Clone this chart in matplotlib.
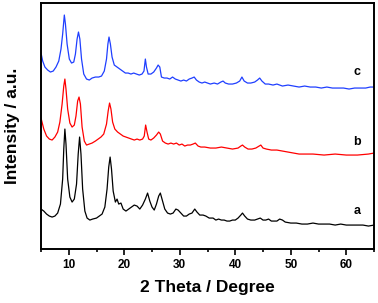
import matplotlib
matplotlib.use("Agg")
import matplotlib.pyplot as plt
from matplotlib.ticker import MultipleLocator

# Curve a (black)
x_a = [5.0, 5.5, 6.0, 6.5, 7.0, 7.5, 8.0, 8.5, 8.9, 9.1, 9.3, 9.5, 9.8, 10.2, 10.6, 11.0, 11.4, 11.7,
       11.95, 12.2, 12.5, 12.9, 13.3, 13.8, 14.3, 15.0, 15.5, 16.0, 16.5, 16.9, 17.2, 17.45, 17.7, 18.0,
       18.4, 18.7, 19.0, 19.4, 19.8, 20.3, 20.8, 21.3, 21.8, 22.3, 22.8, 23.3, 23.8, 24.2, 24.6, 25.0,
       25.4, 25.8, 26.2, 26.5, 26.9, 27.3, 27.8, 28.3, 28.8, 29.3, 29.7, 30.2, 30.7, 31.2, 31.7, 32.2,
       32.7, 33.1, 33.6, 34.2, 34.7, 35.3, 36.0, 36.5, 37.0, 37.5, 38.0, 38.5, 39.0, 39.5, 40.0, 40.5,
       41.0, 41.3, 41.7, 42.2, 42.8, 43.5, 44.0, 44.5, 45.0, 45.5, 46.0, 46.5, 47.0, 47.5, 48.0, 48.5,
       49.0, 50.0, 51.0, 52.0, 53.0, 54.0, 55.0, 56.0, 57.0, 58.0, 59.0, 60.0, 61.0, 62.0, 63.0, 64.0, 65.0]
y_a = [40, 38, 35, 33, 32, 33, 36, 45, 70, 100, 120, 105, 70, 52, 47, 50, 65, 95,
       112, 95, 60, 38, 31, 29, 30, 31, 33, 35, 42, 60, 82, 92, 80, 58,
       47, 50, 45, 46, 40, 38, 40, 42, 44, 43, 40, 44, 50, 56, 48, 42,
       39, 45, 53, 56, 48, 40, 36, 35, 36, 40, 39, 36, 33, 33, 35, 36,
       40, 37, 34, 34, 33, 31, 31, 29, 30, 29, 29, 28, 28, 29, 29, 31,
       34, 36, 33, 30, 29, 29, 30, 31, 29, 29, 30, 28, 28, 28, 30, 29,
       27, 26, 26, 25, 25, 26, 25, 25, 25, 24, 25, 24, 24, 24, 24, 23, 24]

# Curve b (red)
x_b = [5.0, 5.5, 6.0, 6.5, 7.0, 7.5, 8.0, 8.4, 8.8, 9.1, 9.3, 9.5, 9.8, 10.2, 10.6, 11.0, 11.3, 11.6,
       11.85, 12.1, 12.4, 12.8, 13.2, 13.7, 14.2, 14.8, 15.3, 15.8, 16.3, 16.8, 17.1, 17.35, 17.6, 17.9,
       18.3, 18.8, 19.3, 19.8, 20.3, 20.8, 21.3, 21.8, 22.3, 22.8, 23.3, 23.6, 23.85, 24.1, 24.4, 24.8,
       25.3, 25.8, 26.2, 26.5, 26.9, 27.4, 27.9, 28.4, 28.9, 29.4, 29.9, 30.4, 30.9, 31.4, 31.9, 32.4,
       32.8, 33.3, 33.8, 34.5, 35.5, 36.5, 37.5, 38.5, 39.5, 40.5, 41.0, 41.3, 41.7, 42.3, 43.0, 43.7,
       44.3, 44.6, 45.0, 45.6, 46.5, 47.5, 48.5, 49.5, 50.5, 51.5, 52.5, 54.0, 56.0, 58.0, 60.0, 62.0,
       64.0, 65.0]
y_b = [131, 120, 113, 110, 109, 112, 117, 127, 145, 163, 170, 160, 140, 126, 122, 124, 133, 148,
       152, 145, 122, 108, 104, 105, 106, 108, 110, 112, 115, 125, 138, 146, 140, 127,
       120, 117, 115, 113, 112, 111, 110, 109, 110, 109, 110, 113, 124, 117, 110, 109,
       111, 114, 117, 115, 108, 106, 105, 106, 105, 106, 104, 105, 103, 104, 104, 105,
       106, 103, 102, 102, 101, 101, 102, 101, 100, 101, 103, 104, 102, 100, 100, 101,
       103, 104, 101, 100, 99, 99, 98, 97, 96, 95, 95, 95, 94, 95, 94, 94,
       95, 96]

# Curve c (blue)
x_c = [5.0, 5.3, 5.7, 6.2, 6.7, 7.2, 7.7, 8.2, 8.6, 8.9, 9.2, 9.4, 9.7, 10.1, 10.5, 10.9, 11.2, 11.5,
       11.75, 12.0, 12.3, 12.7, 13.2, 13.7, 14.2, 14.8, 15.4, 15.9, 16.4, 16.8, 17.05, 17.25, 17.5, 17.8,
       18.2, 18.7, 19.2, 19.7, 20.2, 20.7, 21.2, 21.7, 22.2, 22.7, 23.2, 23.55, 23.8, 24.0, 24.3, 24.8,
       25.3, 25.8, 26.1, 26.4, 26.7, 27.2, 27.7, 28.2, 28.7, 29.2, 29.7, 30.2, 30.7, 31.2, 31.7, 32.2,
       32.6, 33.0, 33.5, 34.0, 34.5, 35.0, 35.5, 36.2, 36.8, 37.4, 37.8, 38.2, 38.8, 39.5, 40.2, 40.8,
       41.2, 41.6, 42.2, 42.8, 43.5, 44.0, 44.4, 44.8, 45.4, 46.0, 46.8, 47.5, 48.5, 49.5, 50.5, 51.5,
       52.5, 53.5, 54.5, 55.5, 56.5, 57.5, 58.5, 59.5, 60.5, 61.5, 62.5, 63.5, 64.3, 65.0]
y_c = [196, 188, 182, 179, 177, 178, 182, 188, 200, 215, 234, 225, 205, 190, 186, 187, 195, 210,
       217, 210, 190, 175, 170, 169, 171, 172, 172, 173, 178, 190, 205, 212, 205, 192,
       184, 182, 180, 178, 176, 176, 175, 176, 175, 174, 175, 178, 190, 182, 175, 175,
       177, 181, 184, 182, 172, 171, 171, 170, 172, 170, 169, 168, 169, 168, 170, 171,
       172, 169, 167, 166, 167, 166, 165, 166, 165, 167, 168, 166, 165, 165, 166, 168,
       172, 168, 166, 166, 167, 169, 171, 168, 165, 165, 164, 165, 163, 164, 163, 162,
       163, 162, 162, 161, 162, 161, 161, 161, 160, 161, 161, 161, 162, 162]

etiquetas = ["a", "b", "c"]
pos_etiquetas = [(62.0, 38), (62.0, 107), (62.0, 177)]

plt.rcParams["font.family"] = ["Liberation Sans", "DejaVu Sans"]

fig = plt.figure(figsize=(3.78, 3.03), dpi=100)
ax = fig.add_axes([0.1085, 0.178, 0.881, 0.812])

ax.plot(x_a, y_a, color="black", lw=0.9)
ax.plot(x_b, y_b, color="#ff0000", lw=0.9)
ax.plot(x_c, y_c, color="#1f3fff", lw=0.9)

for txt, (tx, ty) in zip(etiquetas, pos_etiquetas):
    ax.text(tx, ty, txt, fontsize=9, fontweight="bold", ha="center", va="center")

ax.set_xlim(5, 65)
ax.set_ylim(0, 246)
ax.xaxis.set_major_locator(MultipleLocator(10))
ax.xaxis.set_minor_locator(MultipleLocator(5))
ax.set_yticks([])
ax.tick_params(axis="x", which="major", direction="out", length=4, width=1.2, labelsize=8.5)
ax.tick_params(axis="x", which="minor", direction="out", length=2.5, width=1.2)
for lab in ax.get_xticklabels():
    lab.set_fontweight("bold")
for sp in ax.spines.values():
    sp.set_linewidth(1.4)

ax.set_xlabel("2 Theta / Degree", fontsize=12.5, fontweight="bold", labelpad=6)
ax.set_ylabel("Intensity / a.u.", fontsize=12.5, fontweight="bold", labelpad=15)

fig.savefig("out.png", dpi=100)
